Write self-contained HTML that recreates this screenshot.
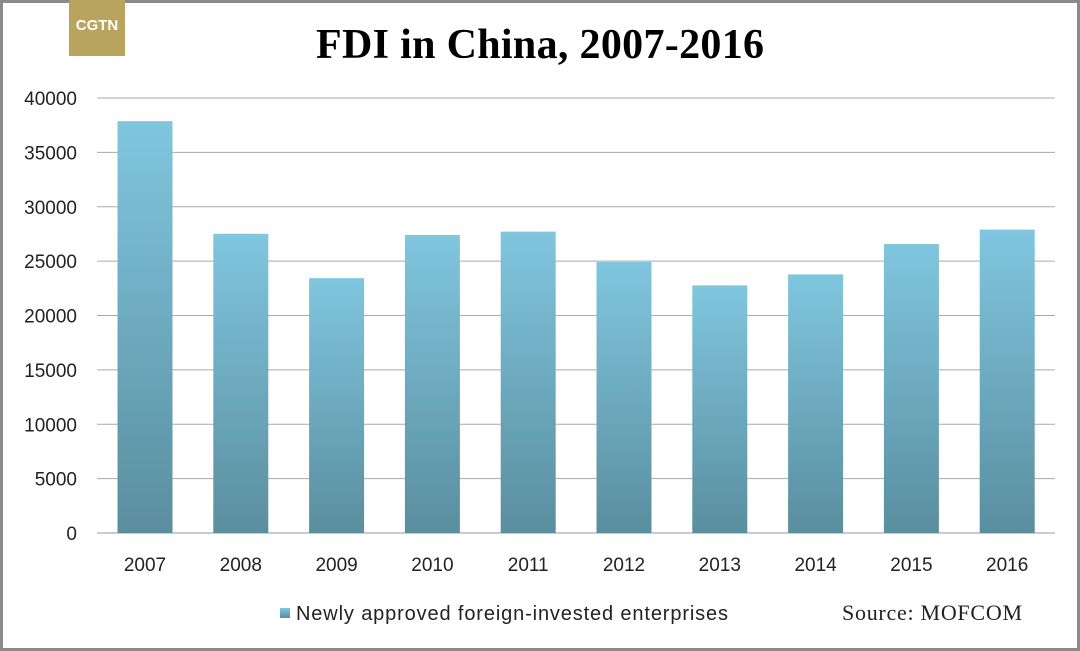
<!DOCTYPE html>
<html><head><meta charset="utf-8"><style>
html,body{margin:0;padding:0;background:#fff}
body{width:1080px;height:651px;overflow:hidden;position:relative}
</style></head><body>
<div style="position:absolute;left:0;top:0;width:1074px;height:645px;border:3px solid #8a8a8a;"></div>
<div style="position:absolute;left:69px;top:0;width:56px;height:56px;background:#b8a45c;color:#fff;font:bold 15px 'Liberation Sans',sans-serif;text-align:center;line-height:52px;">CGTN</div>
<svg id="chart" width="1080" height="651" style="position:absolute;left:0;top:0">
<defs><linearGradient id="g" x1="0" y1="0" x2="0" y2="1"><stop offset="0" stop-color="#80c6df"/><stop offset="1" stop-color="#5a8e9f"/></linearGradient></defs>
<text x="540" y="58" text-anchor="middle" font-family="Liberation Serif,serif" font-weight="bold" font-size="42" textLength="448" fill="#000">FDI in China, 2007-2016</text>
<g id="grid"></g><g id="bars"></g><g id="labels"></g>
<rect x="280" y="608" width="10" height="10" fill="url(#g)"/>
<text x="296" y="620" font-family="Liberation Sans,sans-serif" font-size="20" textLength="432" fill="#222">Newly approved foreign-invested enterprises</text>
<text x="842" y="620" font-family="Liberation Serif,serif" font-size="22" textLength="180" fill="#222">Source: MOFCOM</text>
</svg>
<script>
const categories=["2007","2008","2009","2010","2011","2012","2013","2014","2015","2016"];
const values=[37871,27514,23435,27406,27712,24925,22773,23778,26575,27900];
const yTicks=[0,5000,10000,15000,20000,25000,30000,35000,40000];
const ns="http://www.w3.org/2000/svg";
const y=v=>533-v*435/40000;
const x=i=>145+i*95.8;
const grid=document.getElementById('grid'),bars=document.getElementById('bars'),labels=document.getElementById('labels');
function mk(tag,attrs,parent,txt){const e=document.createElementNS(ns,tag);for(const k in attrs)e.setAttribute(k,attrs[k]);if(txt!==undefined)e.textContent=txt;parent.appendChild(e);return e;}
yTicks.forEach(t=>{
  const l=mk('line',{x1:97,x2:1055,y1:y(t),y2:y(t),stroke:t===0?'#999':'#aaa','stroke-width':1},grid);
  
  
  const tx=mk('text',{x:77,y:y(t)+7,'text-anchor':'end','font-family':'Liberation Sans,sans-serif','font-size':19,fill:'#222'},labels,String(t));
  
  
});
categories.forEach((c,i)=>{
  const r=mk('rect',{x:x(i)-27.5,y:y(values[i]),width:55,height:533-y(values[i]),fill:'url(#g)'},bars);
  
  
  const tx=mk('text',{x:x(i),y:571,'text-anchor':'middle','font-family':'Liberation Sans,sans-serif','font-size':19,fill:'#222'},labels,c);
  
  
});
</script>
</body></html>
